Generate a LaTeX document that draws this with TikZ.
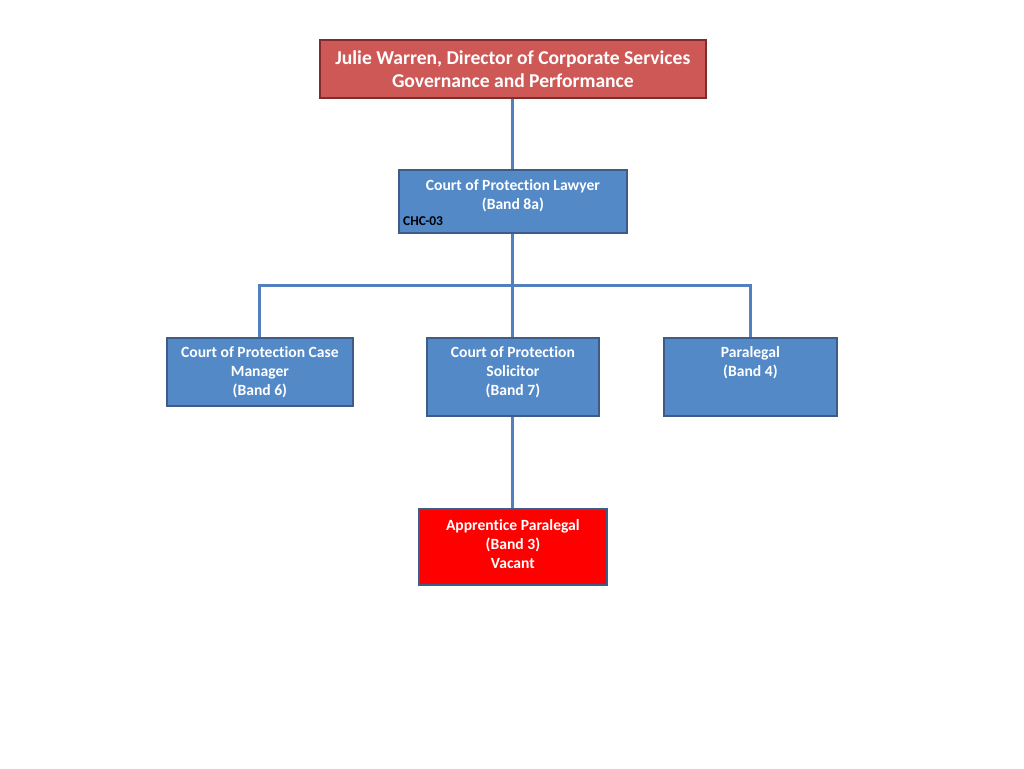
\documentclass[tikz,border=0pt]{standalone}
\usepackage{fontspec}
\setmainfont[Ligatures=NoCommon]{Carlito}
\usetikzlibrary{shadows}
\definecolor{topfill}{RGB}{206,88,86}
\definecolor{topedge}{RGB}{125,45,45}
\definecolor{bluefill}{RGB}{84,137,200}
\definecolor{blueedge}{RGB}{62,92,135}
\definecolor{redfill}{RGB}{255,0,0}
\definecolor{linecol}{RGB}{80,128,190}
\begin{document}
\begin{tikzpicture}[x=1pt,y=-1pt,
  box/.style={draw=blueedge,line width=1.8pt,fill=bluefill,rectangle,inner sep=0pt,anchor=north west,
    drop shadow={shadow xshift=1pt,shadow yshift=-1.5pt,opacity=0.35}},
  topbox/.style={box,draw=topedge,fill=topfill},
  redbox/.style={box,fill=redfill},
  txt/.style={text=white,font=\bfseries\fontsize{15.6}{19}\selectfont,align=center,inner sep=0pt,anchor=north},
  toptxt/.style={txt,font=\bfseries\fontsize{19.6}{23}\selectfont},
  conn/.style={draw=linecol,line width=3pt}
]
\useasboundingbox[fill=white] (0,0) rectangle (1024,768);
\coordinate (bus) at (512,285);
% boxes
\node[topbox,minimum width=386pt,minimum height=58pt] (top) at (319,39) {};
\node[box,minimum width=228pt,minimum height=63pt] (law) at (398,169) {};
\node[box,minimum width=186pt,minimum height=68pt] (cm) at (166,337) {};
\node[box,minimum width=172pt,minimum height=78pt] (sol) at (426,337) {};
\node[box,minimum width=173pt,minimum height=78pt] (para) at (663,337) {};
\node[redbox,minimum width=188pt,minimum height=76pt] (app) at (418,508) {};
% connectors
\draw[conn] (top.south) -- (law.north);
\draw[conn] (law.south) -- (sol.north);
\draw[conn] (cm.north) -- (cm.north |- bus) -- (para.north |- bus) -- (para.north);
\draw[conn] (sol.south) -- (app.north);
% texts
\node[toptxt] (topt) at ([yshift=-12pt]top.north) {Julie Warren, Director of Corporate Services\\Governance and Performance};
\node[txt] (lawt) at ([yshift=-10pt]law.north) {Court of Protection Lawyer\\(Band 8a)};
\node[anchor=base west,inner sep=0pt,font=\bfseries\fontsize{13.5}{15}\selectfont] (chc) at ([xshift=5pt,yshift=8pt]law.south west) {CHC-03};
\node[txt] (cmt) at ([yshift=-9pt]cm.north) {Court of Protection Case\\Manager\\(Band 6)};
\node[txt] (solt) at ([yshift=-9pt]sol.north) {Court of Protection\\Solicitor\\(Band 7)};
\node[txt] (parat) at ([yshift=-9pt]para.north) {Paralegal\\(Band 4)};
\node[txt] (appt) at ([yshift=-11pt]app.north) {Apprentice Paralegal\\(Band 3)\\Vacant};
\end{tikzpicture}
\end{document}
